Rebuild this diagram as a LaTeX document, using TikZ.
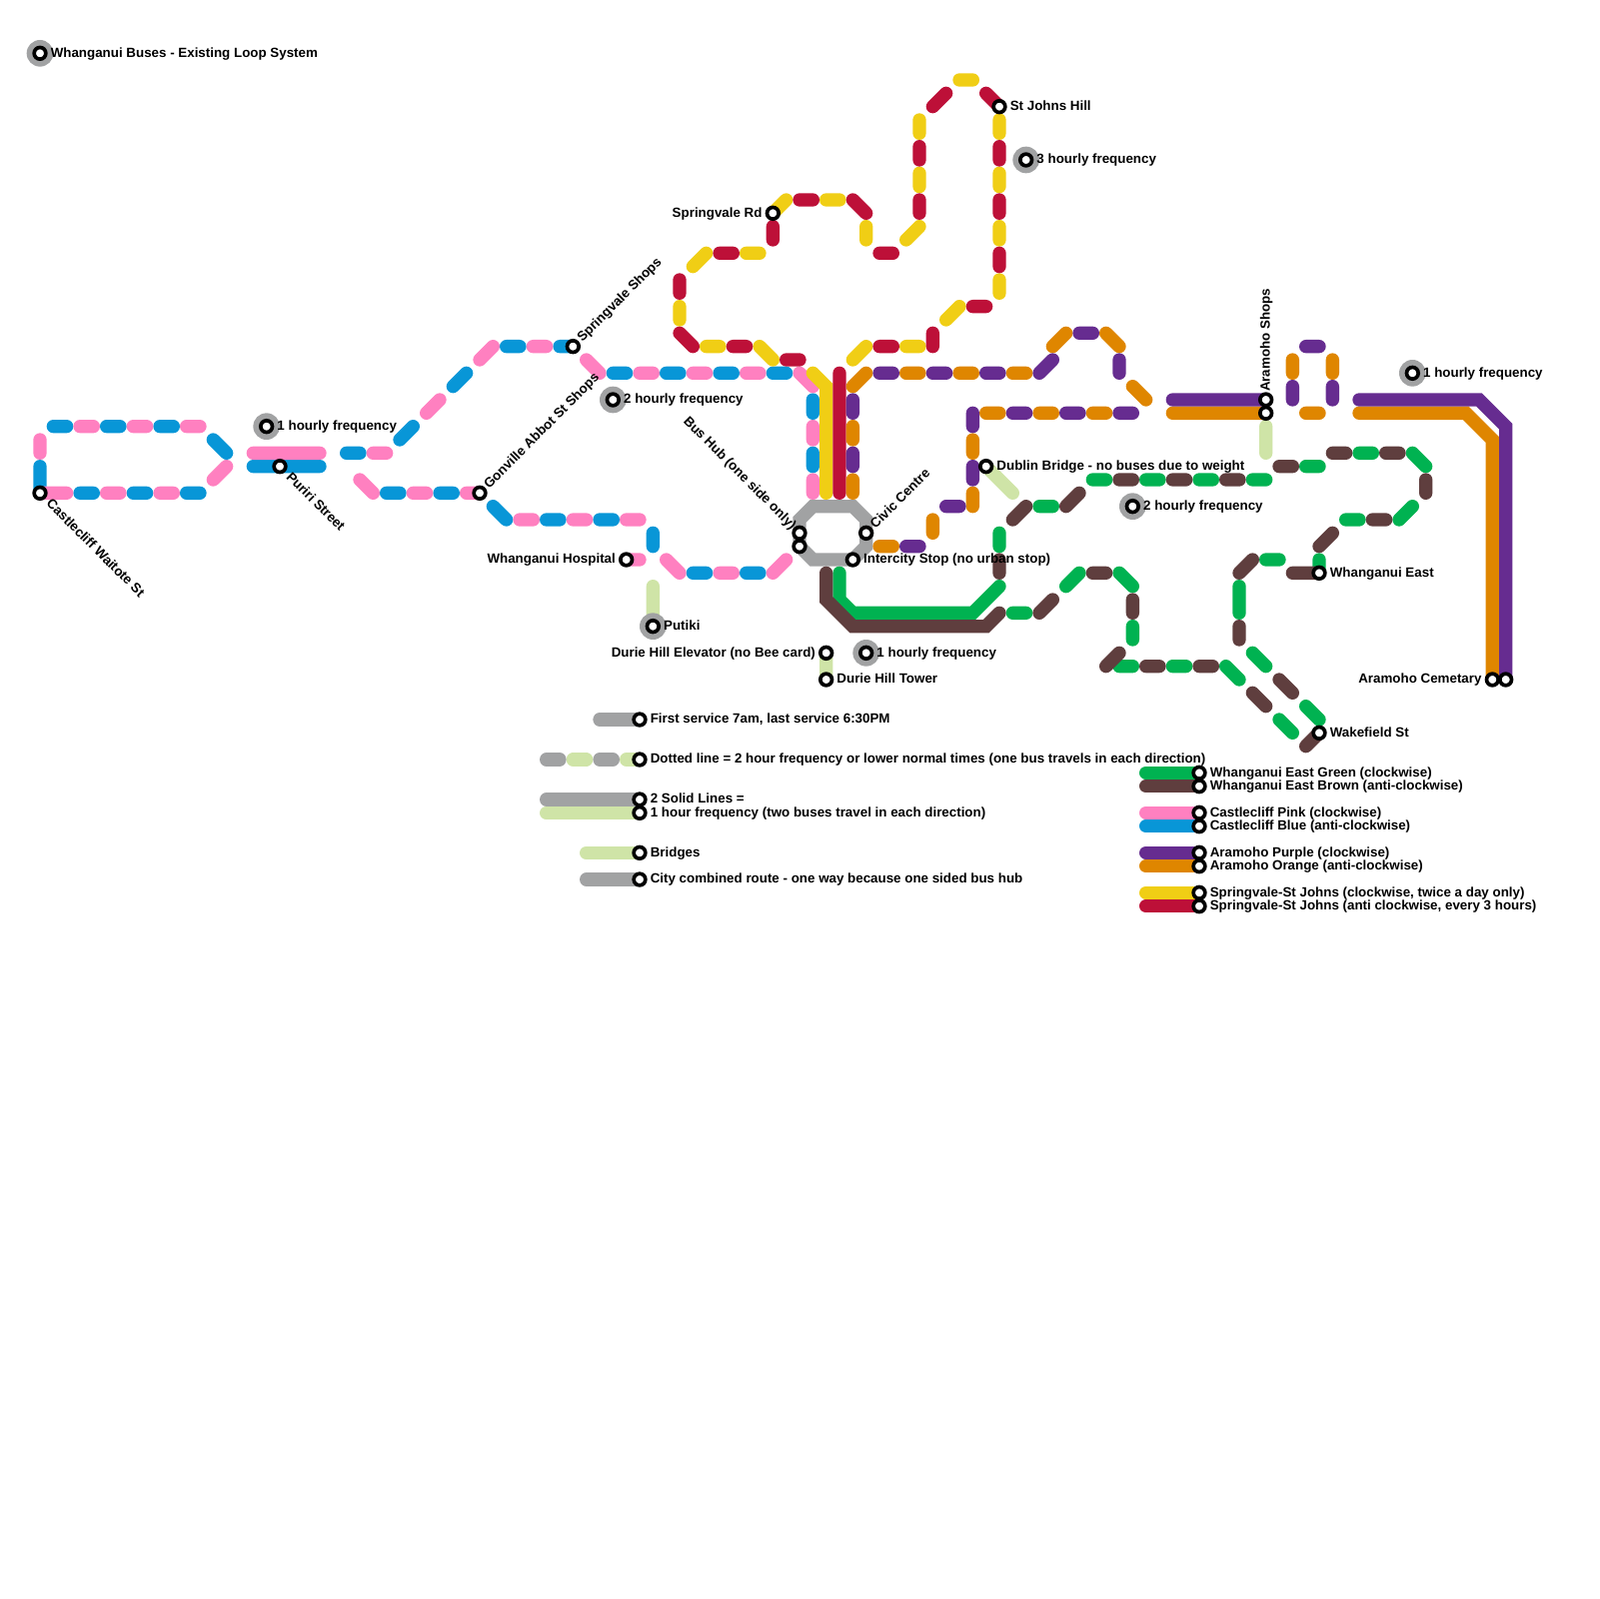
\documentclass[tikz,border=0pt]{standalone}
\usepackage{fontspec}
\setmainfont{Liberation Sans}
\usetikzlibrary{positioning}
\definecolor{cliffblue}{HTML}{0896D7}
\definecolor{cliffpink}{HTML}{FF80C0}
\definecolor{valeyellow}{HTML}{F0CE15}
\definecolor{valered}{HTML}{BD1038}
\definecolor{moorange}{HTML}{DF8600}
\definecolor{mopurple}{HTML}{662C90}
\definecolor{eastgreen}{HTML}{00B251}
\definecolor{eastbrown}{HTML}{5F3E3E}
\definecolor{hubgrey}{HTML}{A1A2A3}
\definecolor{bridgemint}{HTML}{CFE4A7}
\tikzset{
  route/.style={line width=2mm,line cap=round},
  stop/.style={circle,draw=black,fill=white,line width=0.55mm,minimum size=1.75mm,inner sep=0pt},
  freq/.style={circle,fill=hubgrey,minimum size=4mm,inner sep=0pt},
  lbl/.style={inner sep=0pt,text height=4.4pt,text depth=1pt,font=\fontsize{5.7pt}{6pt}\selectfont\bfseries},
  node distance=0.4mm
}
\begin{document}
\begin{tikzpicture}[x=2mm,y=-2mm]
  \useasboundingbox (0,0) rectangle (120,120);
  \coordinate (castlecliff) at (3,37);
  \coordinate (puriri) at (21,35);
  \coordinate (gonville) at (36,37);
  \coordinate (springshops) at (43,26);
  \coordinate (springrd) at (58,16);
  \coordinate (stjohns) at (75,8);
  \coordinate (hospital) at (47,42);
  \coordinate (putiki) at (49,47);
  \coordinate (elevator) at (62,49);
  \coordinate (tower) at (62,51);
  \coordinate (dublin) at (74,35);
  \coordinate (shopsa) at (95,30);
  \coordinate (shopsb) at (95,31);
  \coordinate (cemetarya) at (112,51);
  \coordinate (cemetaryb) at (113,51);
  \coordinate (east) at (99,43);
  \coordinate (wakefield) at (99,55);

  \draw[route,hubgrey] (60,39) -- (61,38) -- (64,38) -- (65,39) -- (65,41) --
    (64,42) -- (61,42) -- (60,41) -- cycle;

  \draw[route,cliffblue] (4,32) -- (5,32) (8,32) -- (9,32) (12,32) -- (13,32)
    (16,33) -- (17,34) (3,35) -- (castlecliff) (6,37) -- (7,37) (10,37) -- (11,37)
    (14,37) -- (15,37) (19,35) -- (24,35) (26,34) -- (27,34) (30,33) -- (31,32)
    (34,29) -- (35,28) (38,26) -- (39,26) (42,26) -- (springshops) (29,37) -- (30,37)
    (33,37) -- (34,37) (37,38) -- (38,39) (41,39) -- (42,39) (45,39) -- (46,39)
    (49,40) -- (49,41) (52,43) -- (53,43) (56,43) -- (57,43) (46,28) -- (47,28)
    (50,28) -- (51,28) (54,28) -- (55,28) (58,28) -- (59,28) (61,30) -- (61,31)
    (61,34) -- (61,35);
  \draw[route,cliffpink] (6,32) -- (7,32) (10,32) -- (11,32) (14,32) -- (15,32)
    (3,33) -- (3,34) (castlecliff) -- (5,37) (8,37) -- (9,37) (12,37) -- (13,37)
    (17,35) -- (16,36) (19,34) -- (24,34) (28,34) -- (29,34) (32,31) -- (33,30)
    (36,27) -- (37,26) (40,26) -- (41,26) (27,36) -- (28,37) (31,37) -- (32,37)
    (35,37) -- (gonville) (39,39) -- (40,39) (43,39) -- (44,39) (47,39) -- (48,39)
    (hospital) -- (48,42) (50,42) -- (51,43) (54,43) -- (55,43) (58,43) -- (59,42)
    (44,27) -- (45,28) (48,28) -- (49,28) (52,28) -- (53,28) (56,28) -- (57,28)
    (60,28) -- (61,29) (61,32) -- (61,33) (61,36) -- (61,37);

  \draw[route,valeyellow] (53,26) -- (54,26) (57,26) -- (58,27) (51,23) -- (51,24)
    (52,20) -- (53,19) (56,19) -- (57,19) (springrd) -- (59,15) (62,15) -- (63,15)
    (65,17) -- (65,18) (68,18) -- (69,17) (69,13) -- (69,14) (69,9) -- (69,10)
    (72,6) -- (73,6) (75,9) -- (75,10) (75,13) -- (75,14) (75,17) -- (75,18)
    (75,21) -- (75,22) (71,24) -- (72,23) (68,26) -- (69,26) (64,27) -- (65,26);
  \draw[route,valeyellow] (61,28) -- (62,29) -- (62,37);
  \draw[route,valered] (51,25) -- (52,26) (55,26) -- (56,26) (59,27) -- (60,27)
    (51,21) -- (51,22) (54,19) -- (55,19) (58,17) -- (58,18) (60,15) -- (61,15)
    (64,15) -- (65,16) (66,19) -- (67,19) (69,15) -- (69,16) (69,11) -- (69,12)
    (70,8) -- (71,7) (74,7) -- (stjohns) (75,11) -- (75,12) (75,15) -- (75,16)
    (75,19) -- (75,20) (73,23) -- (74,23) (70,25) -- (70,26) (66,26) -- (67,26)
    (63,28) -- (63,37);

  \draw[route,moorange] (64,29) -- (65,28) (68,28) -- (69,28) (72,28) -- (73,28)
    (76,28) -- (77,28) (79,26) -- (80,25) (83,25) -- (84,26) (85,29) -- (86,30)
    (64,32) -- (64,33) (64,36) -- (64,37) (66,41) -- (67,41) (70,39) -- (70,40)
    (73,37) -- (73,38) (73,33) -- (73,34) (74,31) -- (75,31) (78,31) -- (79,31)
    (82,31) -- (83,31) (97,27) -- (97,28) (100,27) -- (100,28) (98,31) -- (99,31)
    (88,31) -- (shopsb);
  \draw[route,moorange] (102,31) -- (110,31) -- (112,33) -- (cemetarya);
  \draw[route,mopurple] (66,28) -- (67,28) (70,28) -- (71,28) (74,28) -- (75,28)
    (78,28) -- (79,27) (81,25) -- (82,25) (84,27) -- (84,28) (64,30) -- (64,31)
    (64,34) -- (64,35) (68,41) -- (69,41) (71,38) -- (72,38) (73,35) -- (73,36)
    (73,31) -- (73,32) (76,31) -- (77,31) (80,31) -- (81,31) (84,31) -- (85,31)
    (97,29) -- (97,30) (100,29) -- (100,30) (98,26) -- (99,26) (88,30) -- (shopsa);
  \draw[route,mopurple] (102,30) -- (111,30) -- (113,32) -- (cemetaryb);

  \draw[route,eastgreen] (63,43) -- (63,45) -- (64,46) -- (73,46) -- (75,44);
  \draw[route,eastbrown] (62,43) -- (62,45) -- (64,47) -- (74,47) -- (75,46);
  \draw[route,eastgreen] (75,40) -- (75,41) (78,38) -- (79,38) (82,36) -- (83,36)
    (86,36) -- (87,36) (90,36) -- (91,36) (94,36) -- (95,36) (98,35) -- (99,35)
    (102,34) -- (103,34) (106,34) -- (107,35) (105,39) -- (106,38) (101,39) -- (102,39)
    (99,42) -- (east) (95,42) -- (96,42) (93,44) -- (93,46) (94,49) -- (95,50)
    (98,53) -- (99,54) (96,54) -- (97,55) (92,50) -- (93,51) (88,50) -- (89,50)
    (84,50) -- (85,50) (85,47) -- (85,48) (84,43) -- (85,44) (80,44) -- (81,43)
    (76,46) -- (77,46);
  \draw[route,eastbrown] (75,42) -- (75,43) (76,39) -- (77,38) (80,38) -- (81,37)
    (84,36) -- (85,36) (88,36) -- (89,36) (92,36) -- (93,36) (96,35) -- (97,35)
    (100,34) -- (101,34) (104,34) -- (105,34) (107,36) -- (107,37) (103,39) -- (104,39)
    (99,41) -- (100,40) (97,43) -- (east) (93,43) -- (94,42) (93,47) -- (93,48)
    (96,51) -- (97,52) (94,52) -- (95,53) (98,56) -- (wakefield) (90,50) -- (91,50)
    (86,50) -- (87,50) (83,50) -- (84,49) (85,45) -- (85,46) (82,43) -- (83,43)
    (78,46) -- (79,45);

  \draw[route,bridgemint] (49,44) -- (putiki) (elevator) -- (tower)
    (dublin) -- (76,37) (95,32) -- (95,34);

  \draw[route,hubgrey] (45,54) -- (48,54) (41,57) -- (42,57) (45,57) -- (46,57)
    (41,60) -- (48,60) (44,66) -- (48,66);
  \draw[route,bridgemint] (43,57) -- (44,57) (47,57) -- (48,57) (41,61) -- (48,61)
    (44,64) -- (48,64);
  \draw[route,eastgreen] (86,58) -- (90,58);
  \draw[route,eastbrown] (86,59) -- (90,59);
  \draw[route,cliffpink] (86,61) -- (90,61);
  \draw[route,cliffblue] (86,62) -- (90,62);
  \draw[route,mopurple] (86,64) -- (90,64);
  \draw[route,moorange] (86,65) -- (90,65);
  \draw[route,valeyellow] (86,67) -- (90,67);
  \draw[route,valered] (86,68) -- (90,68);

  \node[freq] (titlefreq) at (3,4) {};
  \node[freq] (freqa) at (20,32) {};
  \node[freq] (freqb) at (46,30) {};
  \node[freq] (freqc) at (49,47) {};
  \node[freq] (freqd) at (65,49) {};
  \node[freq] (freqe) at (77,12) {};
  \node[freq] (freqf) at (85,38) {};
  \node[freq] (freqg) at (106,28) {};

  \node[stop] (titlestop) at (3,4) {};
  \node[stop] (stopa) at (20,32) {};
  \node[stop] (stopb) at (46,30) {};
  \node[stop] (stopd) at (65,49) {};
  \node[stop] (stope) at (77,12) {};
  \node[stop] (stopf) at (85,38) {};
  \node[stop] (stopg) at (106,28) {};
  \node[stop] (cliffstop) at (castlecliff) {};
  \node[stop] (puristop) at (puriri) {};
  \node[stop] (gonstop) at (gonville) {};
  \node[stop] (shopstop) at (springshops) {};
  \node[stop] (rdstop) at (springrd) {};
  \node[stop] (johnstop) at (stjohns) {};
  \node[stop] (hospstop) at (hospital) {};
  \node[stop] (putistop) at (putiki) {};
  \node[stop] (elevstop) at (elevator) {};
  \node[stop] (towstop) at (tower) {};
  \node[stop] (dubstop) at (dublin) {};
  \node[stop] (aramastop) at (shopsa) {};
  \node[stop] (arambstop) at (shopsb) {};
  \node[stop] (cemastop) at (cemetarya) {};
  \node[stop] (cembstop) at (cemetaryb) {};
  \node[stop] (eaststop) at (east) {};
  \node[stop] (wakestop) at (wakefield) {};
  \node[stop] (hubastop) at (60,40) {};
  \node[stop] (hubbstop) at (60,41) {};
  \node[stop] (civicstop) at (65,40) {};
  \node[stop] (cityastop) at (64,42) {};

  \node[stop] (keya) at (48,54) {};
  \node[stop] (keyb) at (48,57) {};
  \node[stop] (keyc) at (48,60) {};
  \node[stop] (keyd) at (48,61) {};
  \node[stop] (keye) at (48,64) {};
  \node[stop] (keyf) at (48,66) {};
  \node[stop] (linea) at (90,58) {};
  \node[stop] (lineb) at (90,59) {};
  \node[stop] (linec) at (90,61) {};
  \node[stop] (lined) at (90,62) {};
  \node[stop] (linee) at (90,64) {};
  \node[stop] (linef) at (90,65) {};
  \node[stop] (lineg) at (90,67) {};
  \node[stop] (lineh) at (90,68) {};

  \node[lbl,right=of titlestop] (titlelbl) {Whanganui Buses - Existing Loop System};
  \node[lbl,right=of stopa] (lbla) {1 hourly frequency};
  \node[lbl,right=of stopb] (lblb) {2 hourly frequency};
  \node[lbl,right=of stopd] (lbld) {1 hourly frequency};
  \node[lbl,right=of stope] (lble) {3 hourly frequency};
  \node[lbl,right=of stopf] (lblf) {2 hourly frequency};
  \node[lbl,right=of stopg] (lblg) {1 hourly frequency};
  \node[lbl,rotate=-45,anchor=west,xshift=0.6mm] (clifflbl) at (cliffstop.-45) {Castlecliff Waitote St};
  \node[lbl,rotate=-45,anchor=west,xshift=0.6mm] (purilbl) at (puristop.-45) {Puriri Street};
  \node[lbl,rotate=45,anchor=west,xshift=0.2mm] (gonlbl) at (gonstop.45) {Gonville Abbot St Shops};
  \node[lbl,rotate=45,anchor=west,xshift=0.2mm] (shoplbl) at (shopstop.45) {Springvale Shops};
  \node[lbl,left=of rdstop] (rdlbl) {Springvale Rd};
  \node[lbl,right=of johnstop] (johnlbl) {St Johns Hill};
  \node[lbl,left=of hospstop] (hosplbl) {Whanganui Hospital};
  \node[lbl,right=of putistop] (putilbl) {Putiki};
  \node[lbl,left=of elevstop] (elevlbl) {Durie Hill Elevator (no Bee card)};
  \node[lbl,right=of towstop] (towlbl) {Durie Hill Tower};
  \node[lbl,right=of dubstop] (dublbl) {Dublin Bridge - no buses due to weight};
  \node[lbl,rotate=90,anchor=west] (aramlbl) at (aramastop.north) {Aramoho Shops};
  \node[lbl,left=of cemastop] (cemlbl) {Aramoho Cemetary};
  \node[lbl,right=of eaststop] (eastlbl) {Whanganui East};
  \node[lbl,right=of wakestop] (wakelbl) {Wakefield St};
  \node[lbl,rotate=-45,anchor=east] (hublbl) at (hubastop.135) {Bus Hub (one side only)};
  \node[lbl,rotate=45,anchor=west,xshift=0.2mm] (civiclbl) at (civicstop.45) {Civic Centre};
  \node[lbl,right=of cityastop] (citylbl) {Intercity Stop (no urban stop)};

  \node[lbl,right=of keya] (keyalbl) {First service 7am, last service 6:30PM};
  \node[lbl,right=of keyb] (keyblbl) {Dotted line = 2 hour frequency or lower normal times (one bus travels in each direction)};
  \node[lbl,right=of keyc] (keyclbl) {2 Solid Lines =};
  \node[lbl,right=of keyd] (keydlbl) {1 hour frequency (two buses travel in each direction)};
  \node[lbl,right=of keye] (keyelbl) {Bridges};
  \node[lbl,right=of keyf] (keyflbl) {City combined route - one way because one sided bus hub};
  \node[lbl,right=of linea] (linealbl) {Whanganui East Green (clockwise)};
  \node[lbl,right=of lineb] (lineblbl) {Whanganui East Brown (anti-clockwise)};
  \node[lbl,right=of linec] (lineclbl) {Castlecliff Pink (clockwise)};
  \node[lbl,right=of lined] (linedlbl) {Castlecliff Blue (anti-clockwise)};
  \node[lbl,right=of linee] (lineelbl) {Aramoho Purple (clockwise)};
  \node[lbl,right=of linef] (lineflbl) {Aramoho Orange (anti-clockwise)};
  \node[lbl,right=of lineg] (lineglbl) {Springvale-St Johns (clockwise, twice a day only)};
  \node[lbl,right=of lineh] (linehlbl) {Springvale-St Johns (anti clockwise, every 3 hours)};
\end{tikzpicture}
\end{document}
